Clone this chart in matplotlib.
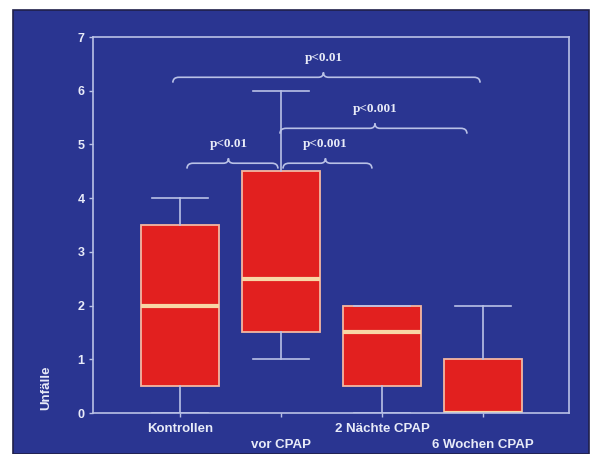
import matplotlib
matplotlib.use("Agg")
import matplotlib.pyplot as plt
from matplotlib.path import Path
from matplotlib.patches import PathPatch, Rectangle

# data
groups = ["Kontrollen", "vor CPAP", "2 Nächte CPAP", "6 Wochen CPAP"]
whis_lo = [0, 1, 0, 0]
q1 = [0.5, 1.5, 0.5, 0]
medians = [2, 2.5, 1.5, 0]
q3 = [3.5, 4.5, 2, 1]
whis_hi = [4, 6, 2, 2]

# brackets: (from, to, height, peak x, label)
brackets = [
    (1.07, 1.97, 4.65, 1.48, "p<0.01"),
    (2.02, 2.90, 4.65, 2.44, "p<0.001"),
    (1.99, 3.84, 5.30, 2.93, "p<0.001"),
    (0.93, 3.97, 6.25, 2.42, "p<0.01"),
]

bg = "#2a3591"
fg = "#b9c1e6"
txt = "#e8ebf8"
red = "#e2201f"

fig = plt.figure(figsize=(5.9, 4.54), dpi=100, facecolor="white")
fig.patches.append(Rectangle((13 / 590, 0), 576 / 590, 1 - 10 / 454,
                             transform=fig.transFigure, facecolor=bg,
                             edgecolor="#20204a", lw=1.2, zorder=-5))
ax = fig.add_axes([93 / 590, 1 - 413 / 454, 476 / 590, 376 / 454])
ax.set_facecolor("none")
ax.set_zorder(2)

stats = []
for i in range(len(groups)):
    stats.append(dict(label=groups[i], med=medians[i], q1=q1[i], q3=q3[i],
                      whislo=whis_lo[i], whishi=whis_hi[i], fliers=[]))

ax.bxp(stats, positions=[1, 2, 3, 4], widths=0.77, capwidths=0.55,
       showfliers=False, patch_artist=True,
       boxprops=dict(facecolor=red, edgecolor="#f3b7a2", lw=1.3),
       medianprops=dict(color="#f8d7a6", lw=3, solid_capstyle="butt"),
       whiskerprops=dict(color=fg, lw=1.2),
       capprops=dict(color=fg, lw=1.2))


def brace(x0, x1, y, xm, label):
    ex, ey = 0.06, 0.1
    px, py = 0.05, 0.09
    verts = [(x0, y - ey), (x0, y), (x0 + ex, y),
             (xm - px, y), (xm, y), (xm, y + py),
             (xm, y), (xm + px, y),
             (x1 - ex, y), (x1, y), (x1, y - ey)]
    codes = [Path.MOVETO, Path.CURVE3, Path.CURVE3,
             Path.LINETO, Path.CURVE3, Path.CURVE3,
             Path.CURVE3, Path.CURVE3,
             Path.LINETO, Path.CURVE3, Path.CURVE3]
    ax.add_patch(PathPatch(Path(verts, codes), facecolor="none",
                           edgecolor=fg, lw=1.2, clip_on=False))
    ax.text(xm, y + 0.36, label, ha="center", va="center", color=txt,
            fontsize=9.5, fontweight="bold", family="Liberation Serif")


for b in brackets:
    brace(*b)

ax.set_xlim(0.14, 4.85)
ax.set_ylim(0, 7)
ax.set_yticks(range(8))
ax.set_xticks([1, 2, 3, 4])
ax.set_xticklabels(groups, family="Liberation Sans", fontsize=9.5,
                   fontweight="bold")
for t in ax.get_yticklabels():
    t.set_family("Liberation Sans")
    t.set_fontweight("bold")
ax.tick_params(axis="y", colors=fg, labelcolor=txt, labelsize=9,
               length=3, width=1, pad=3)
ax.tick_params(axis="x", colors=fg, labelcolor=txt, length=3, width=1,
               pad=4)
xt = ax.xaxis.get_major_ticks()
xt[1].set_pad(16)
xt[3].set_pad(16)
for s in ax.spines.values():
    s.set_color(fg)
    s.set_linewidth(1.2)

ax.set_ylabel("Unfälle", family="Liberation Sans", fontsize=9.5,
              color=txt, fontweight="bold")
ax.yaxis.set_label_coords(-0.086, 0.066)

fig.savefig("out.png", dpi=100, facecolor="white")
